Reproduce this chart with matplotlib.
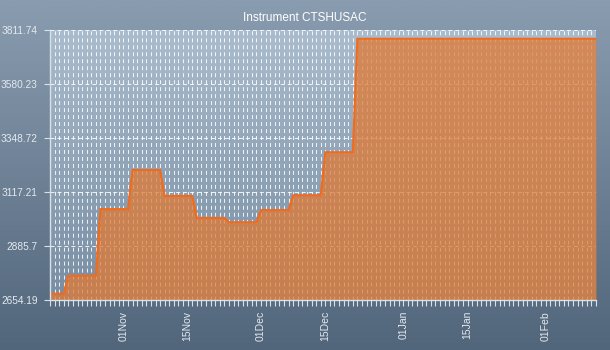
import numpy as np
import pandas as pd
import matplotlib
matplotlib.use('Agg')
import matplotlib.pyplot as plt
import matplotlib.dates as mdates
from matplotlib.colors import LinearSegmentedColormap

# price path of the instrument: level changes take one day, held flat in between
dates = ['2015-10-16', '2015-10-19', '2015-10-20', '2015-10-26', '2015-10-27',
         '2015-11-02', '2015-11-03', '2015-11-09', '2015-11-10', '2015-11-16',
         '2015-11-17', '2015-11-23', '2015-11-24', '2015-11-30', '2015-12-01',
         '2015-12-07', '2015-12-08', '2015-12-14', '2015-12-15', '2015-12-21',
         '2015-12-22', '2016-02-12']
values = [2681.0, 2681.0, 2758.4, 2758.4, 3043.8,
          3043.8, 3211.3, 3211.3, 3100.4, 3100.4,
          3005.9, 3005.9, 2987.6, 2987.6, 3039.5,
          3039.5, 3103.2, 3103.2, 3287.6, 3287.6,
          3774.0, 3774.0]
title = 'Instrument CTSHUSAC'

x = pd.to_datetime(dates)
y = np.array(values)

plt.rcParams['font.family'] = ['Liberation Sans', 'DejaVu Sans']

fig = plt.figure(figsize=(6.1, 3.5), dpi=100)

# figure background gradient
bg = fig.add_axes([0, 0, 1, 1], zorder=-10)
bg_cmap = LinearSegmentedColormap.from_list('bg', ['#52667b', '#8a9cb0'])
bg.imshow(np.linspace(0, 1, 256).reshape(-1, 1), cmap=bg_cmap, aspect='auto',
          origin='lower', extent=[0, 1, 0, 1])
bg.axis('off')

ax = fig.add_axes([50 / 610, 50 / 350, 546 / 610, 270 / 350])
ax.patch.set_visible(False)

# plot area gradient
pa_cmap = LinearSegmentedColormap.from_list('pa', ['#788da3', '#aabccd'])
ax.imshow(np.linspace(0, 1, 256).reshape(-1, 1), cmap=pa_cmap, aspect='auto',
          origin='lower', extent=[0, 1, 0, 1], transform=ax.transAxes, zorder=0)

lo = y.min() * 0.99
hi = y.max() * 1.01

ax.fill_between(x, y, lo, color='#e07a35', alpha=0.75, lw=0, zorder=3)
ax.plot(x, y, color='#f26a1b', lw=1.5, zorder=4, solid_joinstyle='miter')

ax.set_xlim(x[0], x[-1])
ax.set_ylim(lo, hi)

yticks = np.linspace(lo, hi, 6)
ax.set_yticks(yticks)
ax.set_yticklabels([f'{round(v, 2):.6g}' for v in yticks])

ax.xaxis.set_major_locator(mdates.DayLocator(bymonthday=[1, 15]))
ax.xaxis.set_major_formatter(mdates.DateFormatter('%d%b'))
ax.xaxis.set_minor_locator(mdates.DayLocator())
plt.setp(ax.get_xticklabels(), rotation=90)

tick_col = '#d8e0e8'
ax.tick_params(axis='x', which='both', direction='out', length=4, width=0.8,
               color=tick_col, labelcolor='#e4e9ef', labelsize=7.5, pad=4)
ax.tick_params(axis='y', direction='out', length=4, width=0.8, color=tick_col,
               labelcolor='#e4e9ef', labelsize=7.3, pad=5)

# daily vertical grid and horizontal grid at each price tick
ax.grid(True, which='minor', axis='x', color='white', alpha=0.85, lw=0.75,
        linestyle=(0, (3.8, 2.9)), zorder=2)
ax.grid(True, which='major', axis='x', color='white', alpha=0.85, lw=0.75,
        linestyle=(0, (3.8, 2.9)), zorder=2)
ax.grid(True, which='major', axis='y', color='white', alpha=0.85, lw=0.75,
        linestyle=(0, (3.8, 2.9)), zorder=2)
ax.set_axisbelow(False)

for side in ['top', 'right']:
    ax.spines[side].set_visible(False)
for side in ['left', 'bottom']:
    ax.spines[side].set_color(tick_col)
    ax.spines[side].set_linewidth(1)
    ax.spines[side].set_zorder(5)

fig.text(0.5, 1 - 18 / 350, title, ha='center', va='center', color='white',
         fontsize=8.5)

fig.savefig('out.png', dpi=100)
